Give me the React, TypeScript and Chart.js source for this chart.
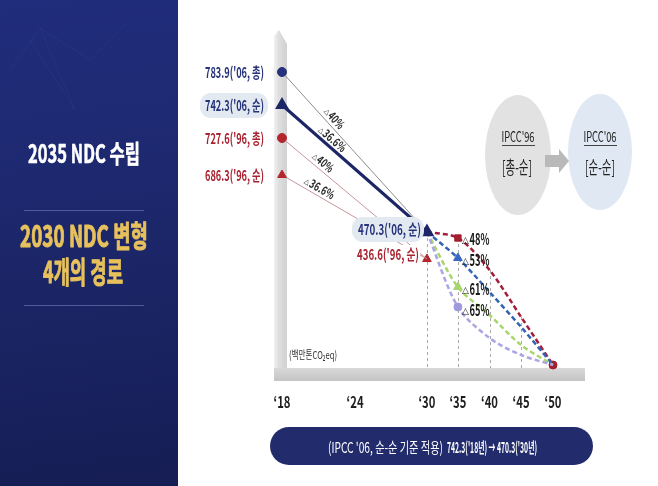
import React, { useEffect, useRef } from "react";
import { Chart, registerables } from "chart.js";
Chart.register(...registerables);

// ---- data ----
const xTickLabels = ["‘18", "‘24", "‘30", "‘35", "‘40", "‘45", "‘50"];
const xTickPos = [0, 2.36, 4.68, 5.68, 6.7, 7.72, 8.75];

const baseLabels = ["783.9('06, 총)", "742.3('06, 순)", "727.6('96, 총)", "686.3('96, 순)"];
// schematic drawing heights (the reference axis is not to scale)
const baseLevels = [293, 260, 227, 190];
const cutLabels2030 = ["40%", "36.6%", "40%", "36.6%"];
const target2030Labels = ["470.3('06, 순)", "436.6('96, 순)"];
const target2030Levels = [133, 106];
const scenarioCuts = ["48%", "53%", "61%", "65%"];
const path48 = [133, 127, 95, 48, 0];
const path53 = [133, 107, 73, 38, 0];
const path61 = [133, 78, 50, 20, 0];
const path65 = [133, 58, 27, 10, 0];

const NAVY = "#1c2667";
const RED = "#a8232f";
const KR = "'Noto Sans CJK KR', 'Noto Sans', sans-serif";

function rr(ctx: CanvasRenderingContext2D, x: number, y: number, w: number, h: number, r: number) {
  ctx.beginPath();
  ctx.moveTo(x + r, y);
  ctx.lineTo(x + w - r, y);
  ctx.arcTo(x + w, y, x + w, y + r, r);
  ctx.lineTo(x + w, y + h - r);
  ctx.arcTo(x + w, y + h, x + w - r, y + h, r);
  ctx.lineTo(x + r, y + h);
  ctx.arcTo(x, y + h, x, y + h - r, r);
  ctx.lineTo(x, y + r);
  ctx.arcTo(x, y, x + r, y, r);
  ctx.closePath();
}

function txt(ctx: CanvasRenderingContext2D, s: string, x: number, y: number, font: string, color: string, align: CanvasTextAlign = "center", maxW?: number, heavy = 0) {
  ctx.font = font;
  ctx.fillStyle = color;
  ctx.textAlign = align;
  ctx.textBaseline = "middle";
  if (maxW) ctx.fillText(s, x, y, maxW);
  else ctx.fillText(s, x, y);
  if (heavy > 0) {
    ctx.strokeStyle = color;
    ctx.lineWidth = heavy;
    ctx.lineJoin = "round";
    if (maxW) ctx.strokeText(s, x, y, maxW);
    else ctx.strokeText(s, x, y);
  }
}

// delta label: small triangle + number, left anchored at x
function delta(ctx: CanvasRenderingContext2D, s: string, x: number, y: number, size: number, color: string, maxW: number) {
  ctx.font = `${Math.round(size * 0.55)}px 'DejaVu Sans'`;
  ctx.fillStyle = color;
  ctx.textAlign = "left";
  ctx.textBaseline = "middle";
  ctx.fillText("△", x, y + size * 0.12);
  const tw = ctx.measureText("△").width;
  ctx.font = `bold ${size}px ${KR}`;
  ctx.fillText(s, x + tw + 0.5, y, maxW);
}

const pt = (xi: number, y: number) => ({ x: xTickPos[xi], y });

const drawPlugin = {
  id: "infographic",
  beforeDatasetsDraw(chart: any) {
    const ctx: CanvasRenderingContext2D = chart.ctx;
    const X = (v: number) => chart.scales.x.getPixelForValue(v);
    const Y = (v: number) => chart.scales.y.getPixelForValue(v);
    ctx.save();
    // left panel
    const g = ctx.createLinearGradient(0, 0, 60, 486);
    g.addColorStop(0, "#202d7c");
    g.addColorStop(0.5, "#1c276a");
    g.addColorStop(1, "#161e55");
    ctx.fillStyle = g;
    ctx.fillRect(0, 0, 178, 486);
    ctx.strokeStyle = "rgba(150,170,255,0.05)";
    ctx.lineWidth = 1;
    ctx.beginPath();
    ctx.moveTo(10, 70); ctx.lineTo(40, 28); ctx.lineTo(75, 110); ctx.lineTo(30, 40);
    ctx.moveTo(40, 28); ctx.lineTo(90, 60); ctx.lineTo(130, 20);
    ctx.stroke();
    txt(ctx, "2035 NDC 수립", 84, 153, `bold 25px ${KR}`, "#ffffff", "center", 112, 0.6);
    ctx.strokeStyle = "#4f5b9c";
    ctx.lineWidth = 1;
    ctx.beginPath();
    ctx.moveTo(24, 210.5); ctx.lineTo(144, 210.5);
    ctx.moveTo(24, 305.5); ctx.lineTo(144, 305.5);
    ctx.stroke();
    txt(ctx, "2030 NDC 변형", 84, 236, `bold 30px ${KR}`, "#e7c15c", "center", 128, 1);
    txt(ctx, "4개의 경로", 83, 272, `bold 30px ${KR}`, "#e7c15c", "center", 80, 1);

    // vertical axis bar
    const vg = ctx.createLinearGradient(273, 0, 288, 0);
    vg.addColorStop(0, "#f4f4f4");
    vg.addColorStop(0.4, "#dedede");
    vg.addColorStop(1, "#cfcfcf");
    ctx.fillStyle = vg;
    ctx.beginPath();
    ctx.moveTo(274, 36); ctx.lineTo(279, 30); ctx.lineTo(287, 44); ctx.lineTo(287, 370); ctx.lineTo(274, 370);
    ctx.closePath();
    ctx.fill();
    // horizontal axis bar
    const hg = ctx.createLinearGradient(0, 368, 0, 382);
    hg.addColorStop(0, "#d9d9d9");
    hg.addColorStop(1, "#c2c2c2");
    ctx.fillStyle = hg;
    ctx.fillRect(274, 368, 311, 13);

    // IPCC ellipses
    ctx.fillStyle = "#e2e2e2";
    ctx.beginPath(); ctx.ellipse(518, 155, 33, 60, 0, 0, Math.PI * 2); ctx.fill();
    ctx.fillStyle = "#dfe8f3";
    ctx.beginPath(); ctx.ellipse(600, 152, 32, 58, 0, 0, Math.PI * 2); ctx.fill();
    ctx.fillStyle = "#b9b9b9";
    ctx.beginPath();
    ctx.moveTo(545, 155); ctx.lineTo(559, 155); ctx.lineTo(559, 149); ctx.lineTo(569, 161);
    ctx.lineTo(559, 173); ctx.lineTo(559, 167); ctx.lineTo(545, 167);
    ctx.closePath(); ctx.fill();
    txt(ctx, "IPCC'96", 518, 137, `14px ${KR}`, "#222", "center", 33);
    txt(ctx, "IPCC'06", 600, 137, `14px ${KR}`, "#222", "center", 33);
    ctx.fillStyle = "#444";
    ctx.fillRect(502, 145, 33, 1);
    ctx.fillRect(584, 145, 33, 1);
    txt(ctx, "[총-순]", 517, 167, `18px ${KR}`, "#222", "center", 30);
    txt(ctx, "[순-순]", 600, 167, `18px ${KR}`, "#222", "center", 30);

    // vertical dashed guides
    const paths = [path48, path53, path61, path65];
    ctx.strokeStyle = "#a9a9a9";
    ctx.lineWidth = 1;
    ctx.setLineDash([3, 3]);
    for (let k = 0; k < 4; k++) {
      const top = Math.max(...paths.map((p) => p[k]));
      const x = Math.round(X(xTickPos[2 + k])) + 0.5;
      ctx.beginPath();
      ctx.moveTo(x, Y(top));
      ctx.lineTo(x, 368);
      ctx.stroke();
    }
    ctx.setLineDash([]);
    ctx.restore();
  },
  afterDatasetsDraw(chart: any) {
    const ctx: CanvasRenderingContext2D = chart.ctx;
    const X = (v: number) => chart.scales.x.getPixelForValue(v);
    const Y = (v: number) => chart.scales.y.getPixelForValue(v);
    ctx.save();
    // left value labels
    ctx.fillStyle = "#e3e9f1";
    rr(ctx, 200, 93, 68, 25, 11); ctx.fill();
    baseLabels.forEach((s, i) => {
      txt(ctx, s, 264, Y(baseLevels[i]), `bold 15px ${KR}`, i < 2 ? "#26337a" : RED, "right", 59);
    });
    // rotated reduction labels on 2018->2030 lines
    const ts = [0.34, 0.31, 0.27, 0.23];
    const ends = [0, 0, 1, 1];
    cutLabels2030.forEach((s, i) => {
      const x0 = X(0), y0 = Y(baseLevels[i]);
      const x1 = X(xTickPos[2]), y1 = Y(target2030Levels[ends[i]]);
      const dx = x1 - x0, dy = y1 - y0, len = Math.hypot(dx, dy);
      const nx = dy / len, ny = -dx / len;
      const cx = x0 + dx * ts[i] + nx * 8, cy = y0 + dy * ts[i] + ny * 8;
      ctx.save();
      ctx.translate(cx, cy);
      ctx.rotate(Math.atan2(dy, dx));
      delta(ctx, s, -16, 0, 12, "#2a2a2a", s.length > 3 ? 27 : 18);
      ctx.restore();
    });
    // 2030 labels
    ctx.fillStyle = "#e3e9f1";
    rr(ctx, 352, 217, 72, 25, 11); ctx.fill();
    txt(ctx, target2030Labels[0], 421, 229, `bold 15px ${KR}`, "#26337a", "right", 63);
    ctx.fillStyle = "#ffffff";
    ctx.fillRect(356, 245, 64, 18);
    txt(ctx, target2030Labels[1], 419, 254, `bold 15px ${KR}`, RED, "right", 62);
    // scenario labels
    const paths = [path48, path53, path61, path65];
    const yOff = [1, 2, 2, 3];
    scenarioCuts.forEach((s, i) => {
      delta(ctx, s, 462, Y(paths[i][1]) + yOff[i], 16, "#1a1a1a", 20);
    });
    // unit
    txt(ctx, "(백만톤CO₂eq)", 289, 355, `11px ${KR}`, "#333", "left", 48);
    // x tick labels
    xTickLabels.forEach((s, i) => {
      txt(ctx, s, X(xTickPos[i]), 402, `bold 16px ${KR}`, "#1e1e1e", "center", 17);
    });
    // bottom pill
    ctx.fillStyle = "#222c6c";
    rr(ctx, 270, 427, 323, 38, 19); ctx.fill();
    txt(ctx, "(IPCC '06, 순-순 기준 적용)", 328, 447, `15px ${KR}`, "#ffffff", "left", 115);
    txt(ctx, "742.3('18년) → 470.3('30년)", 447, 447, `bold 15px ${KR}`, "#ffffff", "left", 90);
    ctx.restore();
  },
};

export default function App() {
  const ref = useRef<HTMLCanvasElement>(null);
  useEffect(() => {
    const canvas = ref.current!;
    const scen = (data: number[], color: string, style: string, mcolor: string, r: number, endR: number) => ({
      data: data.map((v, k) => pt(2 + k, v)),
      borderColor: color,
      borderWidth: 2.5,
      borderDash: [5, 3],
      tension: 0.3,
      pointStyle: [style, style, style, style, "circle"],
      pointRadius: [0, r, 0, 0, endR],
      pointBackgroundColor: mcolor,
      pointBorderColor: mcolor,
      pointBorderWidth: 1,
      clip: false,
      fill: false,
    });
    const datasets: any[] = [
      {
        data: [pt(0, baseLevels[1]), pt(2, target2030Levels[0])],
        borderColor: NAVY, borderWidth: 3,
        pointStyle: "triangle", pointRadius: [5, 5.5],
        pointBackgroundColor: NAVY, pointBorderColor: NAVY, clip: false,
      },
      {
        data: [pt(0, baseLevels[0]), pt(2, target2030Levels[0])],
        borderColor: "#8c8c8c", borderWidth: 1,
        pointStyle: "circle", pointRadius: [4.5, 0],
        pointBackgroundColor: "#26337a", pointBorderColor: "#26337a", clip: false,
      },
      scen(path65, "#aaa5e4", "circle", "#9f99de", 4, 0),
      scen(path61, "#a8d56c", "triangle", "#a8d56c", 5, 0),
      scen(path53, "#3263b5", "triangle", "#3a68bf", 5, 0),
      scen(path48, "#a21f3c", "rect", "#a51f2e", 4.5, 4),
      {
        data: [pt(0, baseLevels[2]), pt(2, target2030Levels[1])],
        borderColor: "#c8959b", borderWidth: 1,
        pointStyle: "circle", pointRadius: [4.5, 0],
        pointBackgroundColor: "#b3262e", pointBorderColor: "#b3262e", clip: false,
      },
      {
        data: [pt(0, baseLevels[3]), pt(2, target2030Levels[1])],
        borderColor: "#c8959b", borderWidth: 1,
        pointStyle: "triangle", pointRadius: [5, 5],
        pointBackgroundColor: "#b3262e", pointBorderColor: "#b3262e", clip: false,
      },
    ];
    const chart = new Chart(canvas, {
      type: "line",
      data: { datasets },
      options: {
        responsive: false,
        animation: false,
        devicePixelRatio: 1,
        events: [],
        layout: { padding: { left: 282, right: 105, top: 25, bottom: 121 } },
        scales: {
          x: { type: "linear", display: false, min: 0, max: 8.75 },
          y: { type: "linear", display: false, min: 0, max: 340 },
        },
        plugins: { legend: { display: false }, tooltip: { enabled: false } },
      },
      plugins: [drawPlugin],
    } as any);
    return () => chart.destroy();
  }, []);
  return (
    <div style={{ position: "absolute", left: 0, top: 0, width: 658, height: 486, background: "#fff" }}>
      <canvas ref={ref} width={658} height={486} style={{ width: 658, height: 486, display: "block" }} />
    </div>
  );
}
